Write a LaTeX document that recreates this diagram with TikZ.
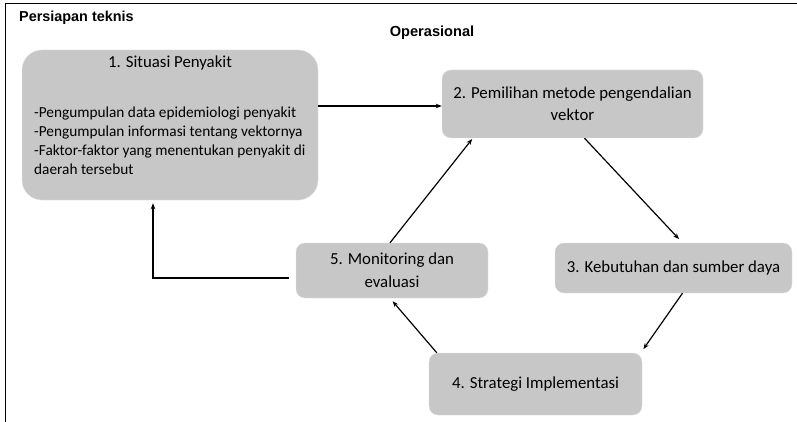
\documentclass[tikz,border=0pt]{standalone}
\usepackage{fontspec}
\setmainfont{Carlito}
\newfontfamily\judulfont{Liberation Sans}
\usetikzlibrary{arrows.meta}

\begin{document}
\begin{tikzpicture}[x=1pt,y=-1pt,
  tahap/.style={draw=black!12,fill=black!22,rounded corners=9pt,inner sep=2pt,
    align=center,font=\fontsize{16.8}{23}\selectfont},
  panah/.style={line width=1.2pt,-{Stealth[length=6pt,width=4.5pt]}}]
\path[use as bounding box] (0,0) rectangle (797,422);
\draw[line width=1pt] (797,4)--(5,4)--(5,422);
\node[anchor=west,inner sep=0pt,font=\judulfont\bfseries\fontsize{14.4}{16}\selectfont] (judul1) at (19,18) {Persiapan teknis};
\node[font=\judulfont\bfseries\fontsize{14.6}{16}\selectfont] (judul2) at (432,33) {Operasional};

\node[tahap,rounded corners=20pt,minimum width=296pt,minimum height=150pt] (s1) at (170,125) {};
\node[font=\fontsize{16.8}{20}\selectfont] (s1judul) at (170,63) {1. Situasi Penyakit};
\node[anchor=north west,align=left,inner sep=0pt,font=\fontsize{15.3}{19}\selectfont] (s1isi) at (34,107)
  {-Pengumpulan data epidemiologi penyakit\\-Pengumpulan informasi tentang vektornya\\-Faktor-faktor yang menentukan penyakit di\\daerah tersebut};
\node[tahap,font=\fontsize{16.8}{22}\selectfont,minimum width=261pt,minimum height=68pt] (s2) at (572.5,104) {2. Pemilihan metode pengendalian\\vektor};
\node[tahap,minimum width=237pt,minimum height=50pt] (s3) at (673.5,268) {3. Kebutuhan dan sumber daya};
\node[tahap,minimum width=213pt,minimum height=62pt] (s4) at (535.5,384) {4. Strategi Implementasi};
\node[tahap,minimum width=192pt,minimum height=55pt] (s5) at (392,270.5) {5. Monitoring dan\\evaluasi};

\draw[panah] (s1.east |- 0,106) -- (s2.west |- 0,106);
\draw[panah,shorten >=5pt] ([xshift=12pt]s2.south) -- ([xshift=9pt]s3.north);
\draw[panah,shorten >=2pt] ([xshift=9pt]s3.south) -- ([yshift=2pt]s4.north east);
\draw[panah,shorten >=4pt] ([xshift=8pt]s4.north west) -- ([xshift=-2pt]s5.south);
\draw[panah,shorten >=1pt] ([xshift=-2pt]s5.north) -- ([xshift=31pt]s2.south west);
\coordinate (belok) at (153,278);
\draw[panah,shorten >=3pt] ([xshift=-7pt]s5.west |- belok) -- (belok) -- (belok |- s1.south);
\end{tikzpicture}
\end{document}
